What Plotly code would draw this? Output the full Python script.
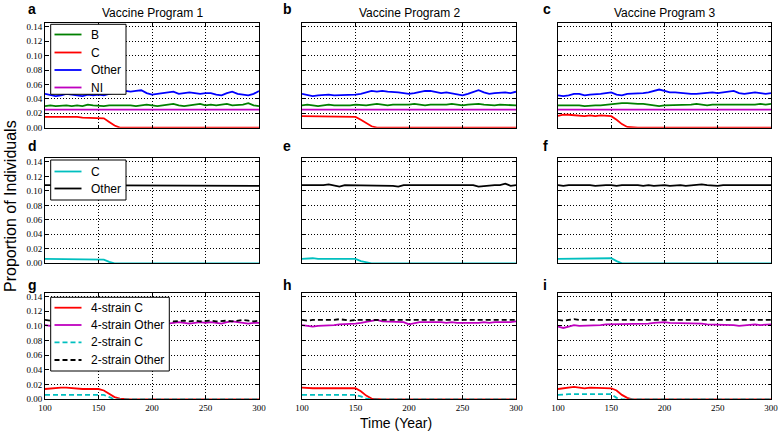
import plotly.graph_objects as go

years = [100, 105, 110, 115, 120, 125, 130, 135, 140, 145,
         150, 155, 160, 165, 170, 175, 180, 185, 190, 195,
         200, 205, 210, 215, 220, 225, 230, 235, 240, 245,
         250, 255, 260, 265, 270, 275, 280, 285, 290, 295, 300]

x_tick_vals = [100, 150, 200, 250, 300]
y_tick_vals = [0.00, 0.02, 0.04, 0.06, 0.08, 0.10, 0.12, 0.14]
y_tick_text = ["0.00", "0.02", "0.04", "0.06", "0.08", "0.10", "0.12", "0.14"]
program_titles = ["Vaccine Program 1", "Vaccine Program 2", "Vaccine Program 3"]
panel_letters = ["a", "b", "c", "d", "e", "f", "g", "h", "i"]

# ---------------- Row 1: B, C, Other, NI ----------------
a_B = [0.030, 0.031, 0.030, 0.031, 0.031, 0.030, 0.031, 0.030, 0.032, 0.031,
       0.030, 0.030, 0.031, 0.031, 0.032, 0.031, 0.031, 0.030, 0.031, 0.032,
       0.031, 0.030, 0.031, 0.032, 0.033, 0.031, 0.030, 0.031, 0.032, 0.033,
       0.031, 0.032, 0.031, 0.032, 0.033, 0.031, 0.031, 0.032, 0.034, 0.031, 0.030]
a_C = [0.015, 0.015, 0.016, 0.016, 0.015, 0.015, 0.015, 0.014, 0.014, 0.014,
       0.014, 0.013, 0.008, 0.003, 0.000, 0.000, 0.000, 0.000, 0.000, 0.000,
       0.000, 0.000, 0.000, 0.000, 0.000, 0.000, 0.000, 0.000, 0.000, 0.000,
       0.000, 0.000, 0.000, 0.000, 0.000, 0.000, 0.000, 0.000, 0.000, 0.000, 0.000]
a_Other = [0.047, 0.046, 0.044, 0.045, 0.047, 0.046, 0.045, 0.044, 0.046, 0.045,
           0.046, 0.045, 0.047, 0.049, 0.050, 0.051, 0.050, 0.051, 0.052, 0.048,
           0.046, 0.047, 0.048, 0.049, 0.050, 0.047, 0.048, 0.049, 0.048, 0.047,
           0.048, 0.048, 0.046, 0.045, 0.048, 0.050, 0.047, 0.046, 0.045, 0.047, 0.051]
a_NI = [0.025, 0.025, 0.025, 0.025, 0.026, 0.025, 0.025, 0.025, 0.025, 0.025,
        0.025, 0.025, 0.025, 0.025, 0.025, 0.025, 0.026, 0.025, 0.025, 0.025,
        0.025, 0.025, 0.025, 0.025, 0.025, 0.025, 0.025, 0.026, 0.025, 0.025,
        0.025, 0.025, 0.025, 0.025, 0.025, 0.025, 0.025, 0.025, 0.025, 0.025, 0.025]

b_B = [0.031, 0.032, 0.031, 0.030, 0.031, 0.032, 0.031, 0.031, 0.030, 0.031,
       0.032, 0.031, 0.031, 0.032, 0.033, 0.032, 0.031, 0.032, 0.032, 0.031,
       0.032, 0.033, 0.032, 0.031, 0.032, 0.032, 0.031, 0.032, 0.033, 0.032,
       0.031, 0.032, 0.033, 0.033, 0.032, 0.031, 0.031, 0.032, 0.032, 0.031, 0.031]
b_C = [0.016, 0.016, 0.015, 0.015, 0.015, 0.015, 0.015, 0.015, 0.016, 0.016,
       0.015, 0.011, 0.006, 0.002, 0.000, 0.000, 0.000, 0.000, 0.000, 0.000,
       0.000, 0.000, 0.000, 0.000, 0.000, 0.000, 0.000, 0.000, 0.000, 0.000,
       0.000, 0.000, 0.000, 0.000, 0.000, 0.000, 0.000, 0.000, 0.000, 0.000, 0.000]
b_Other = [0.047, 0.046, 0.044, 0.045, 0.046, 0.046, 0.045, 0.045, 0.046, 0.046,
           0.046, 0.047, 0.049, 0.051, 0.050, 0.051, 0.050, 0.050, 0.049, 0.048,
           0.047, 0.048, 0.050, 0.051, 0.051, 0.049, 0.048, 0.049, 0.048, 0.047,
           0.045, 0.047, 0.050, 0.052, 0.049, 0.047, 0.048, 0.049, 0.049, 0.048, 0.050]
b_NI = [0.025, 0.025, 0.025, 0.025, 0.025, 0.025, 0.026, 0.025, 0.025, 0.025,
        0.025, 0.025, 0.025, 0.025, 0.025, 0.025, 0.025, 0.025, 0.025, 0.026,
        0.025, 0.025, 0.025, 0.025, 0.025, 0.025, 0.025, 0.025, 0.025, 0.025,
        0.025, 0.025, 0.026, 0.025, 0.025, 0.025, 0.025, 0.025, 0.025, 0.025, 0.025]

c_B = [0.031, 0.031, 0.032, 0.031, 0.031, 0.030, 0.031, 0.031, 0.031, 0.032,
       0.032, 0.034, 0.034, 0.034, 0.033, 0.033, 0.033, 0.032, 0.031, 0.030,
       0.031, 0.031, 0.032, 0.031, 0.032, 0.032, 0.033, 0.032, 0.031, 0.032,
       0.032, 0.032, 0.031, 0.032, 0.032, 0.032, 0.031, 0.032, 0.033, 0.032, 0.033]
c_C = [0.0165, 0.018, 0.018, 0.017, 0.017, 0.016, 0.017, 0.016, 0.017, 0.016,
       0.016, 0.011, 0.005, 0.001, 0.000, 0.000, 0.000, 0.000, 0.000, 0.000,
       0.000, 0.000, 0.000, 0.000, 0.000, 0.000, 0.000, 0.000, 0.000, 0.000,
       0.000, 0.000, 0.000, 0.000, 0.000, 0.000, 0.000, 0.000, 0.000, 0.000, 0.000]
c_Other = [0.045, 0.044, 0.045, 0.047, 0.047, 0.045, 0.046, 0.046, 0.047, 0.048,
           0.049, 0.046, 0.045, 0.047, 0.047, 0.048, 0.048, 0.049, 0.051, 0.053,
           0.051, 0.049, 0.049, 0.048, 0.047, 0.047, 0.047, 0.048, 0.049, 0.049,
           0.048, 0.049, 0.050, 0.051, 0.048, 0.047, 0.048, 0.049, 0.048, 0.047, 0.048]
c_NI = [0.025, 0.025, 0.025, 0.025, 0.025, 0.025, 0.025, 0.025, 0.025, 0.025,
        0.025, 0.025, 0.025, 0.025, 0.025, 0.025, 0.025, 0.025, 0.025, 0.025,
        0.025, 0.025, 0.025, 0.025, 0.025, 0.026, 0.025, 0.025, 0.025, 0.025,
        0.025, 0.025, 0.025, 0.025, 0.025, 0.025, 0.025, 0.025, 0.025, 0.025, 0.025]

# ---------------- Row 2: C, Other ----------------
d_C = [0.006, 0.006, 0.006, 0.006, 0.006, 0.006, 0.006, 0.006, 0.006, 0.006,
       0.006, 0.005, 0.002, 0.000, 0.000, 0.000, 0.000, 0.000, 0.000, 0.000,
       0.000, 0.000, 0.000, 0.000, 0.000, 0.000, 0.000, 0.000, 0.000, 0.000,
       0.000, 0.000, 0.000, 0.000, 0.000, 0.000, 0.000, 0.000, 0.000, 0.000, 0.000]
d_Other = [0.108, 0.108, 0.108, 0.107, 0.108, 0.108, 0.107, 0.108, 0.107, 0.108,
           0.108, 0.107, 0.108, 0.107, 0.107, 0.108, 0.107, 0.108, 0.108, 0.107,
           0.107, 0.108, 0.107, 0.107, 0.108, 0.107, 0.108, 0.107, 0.107, 0.108,
           0.107, 0.108, 0.107, 0.107, 0.108, 0.107, 0.108, 0.107, 0.107, 0.108, 0.107]

e_C = [0.006, 0.007, 0.007, 0.006, 0.006, 0.006, 0.006, 0.006, 0.006, 0.006,
       0.006, 0.003, 0.001, 0.000, 0.000, 0.000, 0.000, 0.000, 0.000, 0.000,
       0.000, 0.000, 0.000, 0.000, 0.000, 0.000, 0.000, 0.000, 0.000, 0.000,
       0.000, 0.000, 0.000, 0.000, 0.000, 0.000, 0.000, 0.000, 0.000, 0.000, 0.000]
e_Other = [0.108, 0.108, 0.108, 0.107, 0.108, 0.109, 0.107, 0.106, 0.108, 0.108,
           0.108, 0.107, 0.108, 0.108, 0.107, 0.108, 0.107, 0.107, 0.106, 0.108,
           0.108, 0.108, 0.107, 0.108, 0.108, 0.107, 0.108, 0.108, 0.108, 0.107,
           0.107, 0.108, 0.108, 0.106, 0.107, 0.107, 0.108, 0.108, 0.110, 0.107, 0.108]

f_C = [0.006, 0.006, 0.007, 0.007, 0.007, 0.007, 0.007, 0.007, 0.007, 0.007,
       0.007, 0.003, 0.000, 0.000, 0.000, 0.000, 0.000, 0.000, 0.000, 0.000,
       0.000, 0.000, 0.000, 0.000, 0.000, 0.000, 0.000, 0.000, 0.000, 0.000,
       0.000, 0.000, 0.000, 0.000, 0.000, 0.000, 0.000, 0.000, 0.000, 0.000, 0.000]
f_Other = [0.108, 0.107, 0.108, 0.108, 0.109, 0.108, 0.108, 0.107, 0.108, 0.108,
           0.108, 0.107, 0.108, 0.108, 0.109, 0.108, 0.107, 0.108, 0.107, 0.108,
           0.108, 0.107, 0.108, 0.108, 0.107, 0.108, 0.108, 0.109, 0.108, 0.107,
           0.107, 0.108, 0.108, 0.107, 0.108, 0.107, 0.108, 0.107, 0.108, 0.108, 0.108]

# ---------------- Row 3: 4-strain vs 2-strain ----------------
g_C4 = [0.014, 0.015, 0.015, 0.016, 0.016, 0.015, 0.015, 0.014, 0.014, 0.014,
        0.014, 0.012, 0.007, 0.003, 0.001, 0.000, 0.000, 0.000, 0.000, 0.000,
        0.000, 0.000, 0.000, 0.000, 0.000, 0.000, 0.000, 0.000, 0.000, 0.000,
        0.000, 0.000, 0.000, 0.000, 0.000, 0.000, 0.000, 0.000, 0.000, 0.000, 0.000]
g_O4 = [0.101, 0.100, 0.101, 0.102, 0.103, 0.102, 0.103, 0.104, 0.103, 0.104,
        0.105, 0.104, 0.105, 0.106, 0.105, 0.106, 0.104, 0.105, 0.104, 0.105,
        0.104, 0.105, 0.104, 0.103, 0.104, 0.105, 0.104, 0.103, 0.104, 0.105,
        0.104, 0.105, 0.104, 0.103, 0.105, 0.106, 0.105, 0.104, 0.103, 0.104, 0.104]
g_C2 = [0.006, 0.006, 0.006, 0.006, 0.006, 0.006, 0.006, 0.006, 0.006, 0.006,
        0.006, 0.006, 0.003, 0.000, 0.000, 0.000, 0.000, 0.000, 0.000, 0.000,
        0.000, 0.000, 0.000, 0.000, 0.000, 0.000, 0.000, 0.000, 0.000, 0.000,
        0.000, 0.000, 0.000, 0.000, 0.000, 0.000, 0.000, 0.000, 0.000, 0.000, 0.000]
g_O2 = [0.108, 0.107, 0.108, 0.108, 0.107, 0.108, 0.108, 0.107, 0.108, 0.108,
        0.107, 0.108, 0.108, 0.107, 0.107, 0.108, 0.107, 0.108, 0.108, 0.107,
        0.107, 0.108, 0.107, 0.107, 0.106, 0.107, 0.107, 0.106, 0.107, 0.106,
        0.107, 0.107, 0.106, 0.107, 0.107, 0.106, 0.107, 0.108, 0.107, 0.106, 0.107]

h_C4 = [0.016, 0.015, 0.015, 0.015, 0.015, 0.014, 0.014, 0.014, 0.015, 0.015,
        0.015, 0.011, 0.005, 0.001, 0.000, 0.000, 0.000, 0.000, 0.000, 0.000,
        0.000, 0.000, 0.000, 0.000, 0.000, 0.000, 0.000, 0.000, 0.000, 0.000,
        0.000, 0.000, 0.000, 0.000, 0.000, 0.000, 0.000, 0.000, 0.000, 0.000, 0.000]
h_O4 = [0.101, 0.100, 0.099, 0.100, 0.100, 0.101, 0.101, 0.102, 0.102, 0.103,
        0.103, 0.104, 0.105, 0.107, 0.108, 0.106, 0.106, 0.105, 0.105, 0.105,
        0.102, 0.104, 0.105, 0.105, 0.105, 0.106, 0.105, 0.104, 0.105, 0.104,
        0.104, 0.103, 0.104, 0.104, 0.105, 0.104, 0.105, 0.105, 0.104, 0.105, 0.106]
h_C2 = [0.006, 0.006, 0.006, 0.006, 0.006, 0.006, 0.006, 0.006, 0.006, 0.006,
        0.006, 0.004, 0.001, 0.000, 0.000, 0.000, 0.000, 0.000, 0.000, 0.000,
        0.000, 0.000, 0.000, 0.000, 0.000, 0.000, 0.000, 0.000, 0.000, 0.000,
        0.000, 0.000, 0.000, 0.000, 0.000, 0.000, 0.000, 0.000, 0.000, 0.000, 0.000]
h_O2 = [0.108, 0.107, 0.108, 0.108, 0.108, 0.107, 0.108, 0.109, 0.108, 0.107,
        0.108, 0.108, 0.107, 0.108, 0.107, 0.107, 0.108, 0.107, 0.108, 0.108,
        0.107, 0.107, 0.108, 0.108, 0.107, 0.108, 0.108, 0.107, 0.108, 0.107,
        0.108, 0.107, 0.108, 0.107, 0.107, 0.108, 0.108, 0.107, 0.108, 0.107, 0.108]

i_C4 = [0.014, 0.015, 0.016, 0.017, 0.016, 0.015, 0.016, 0.016, 0.016, 0.015,
        0.015, 0.012, 0.006, 0.002, 0.000, 0.000, 0.000, 0.000, 0.000, 0.000,
        0.000, 0.000, 0.000, 0.000, 0.000, 0.000, 0.000, 0.000, 0.000, 0.000,
        0.000, 0.000, 0.000, 0.000, 0.000, 0.000, 0.000, 0.000, 0.000, 0.000, 0.000]
i_O4 = [0.099, 0.097, 0.099, 0.101, 0.100, 0.100, 0.101, 0.100, 0.101, 0.102,
        0.102, 0.102, 0.103, 0.103, 0.103, 0.102, 0.103, 0.103, 0.104, 0.105,
        0.105, 0.104, 0.104, 0.104, 0.103, 0.103, 0.104, 0.103, 0.102, 0.102,
        0.101, 0.102, 0.101, 0.101, 0.100, 0.101, 0.102, 0.102, 0.101, 0.102, 0.102]
i_C2 = [0.006, 0.007, 0.007, 0.007, 0.007, 0.007, 0.007, 0.007, 0.007, 0.007,
        0.007, 0.002, 0.000, 0.000, 0.000, 0.000, 0.000, 0.000, 0.000, 0.000,
        0.000, 0.000, 0.000, 0.000, 0.000, 0.000, 0.000, 0.000, 0.000, 0.000,
        0.000, 0.000, 0.000, 0.000, 0.000, 0.000, 0.000, 0.000, 0.000, 0.000, 0.000]
i_O2 = [0.108, 0.107, 0.108, 0.109, 0.108, 0.108, 0.107, 0.108, 0.108, 0.108,
        0.107, 0.108, 0.108, 0.108, 0.107, 0.108, 0.107, 0.108, 0.108, 0.108,
        0.108, 0.107, 0.108, 0.107, 0.108, 0.108, 0.107, 0.108, 0.108, 0.107,
        0.108, 0.107, 0.107, 0.108, 0.107, 0.108, 0.107, 0.108, 0.107, 0.107, 0.108]

# ---------------- styling ----------------
GREEN, RED, BLUE, MAGENTA, CYAN, BLACK = "#008000", "#FF0000", "#0000FF", "#BF00BF", "#00BFBF", "#000000"
DASH = "5px,3px"
W, H = 778, 435
col_px = [(45, 259), (302, 516), (558, 771)]
row_px = [(23.3, 127.7), (158.3, 263.3), (292.7, 399.3)]

# series per panel: (values, name, color, dash)
panels = [
    [(a_B, "B", GREEN, None), (a_C, "C", RED, None), (a_Other, "Other", BLUE, None), (a_NI, "NI", MAGENTA, None)],
    [(b_B, "B", GREEN, None), (b_C, "C", RED, None), (b_Other, "Other", BLUE, None), (b_NI, "NI", MAGENTA, None)],
    [(c_B, "B", GREEN, None), (c_C, "C", RED, None), (c_Other, "Other", BLUE, None), (c_NI, "NI", MAGENTA, None)],
    [(d_C, "C", CYAN, None), (d_Other, "Other", BLACK, None)],
    [(e_C, "C", CYAN, None), (e_Other, "Other", BLACK, None)],
    [(f_C, "C", CYAN, None), (f_Other, "Other", BLACK, None)],
    [(g_C4, "4-strain C", RED, None), (g_O4, "4-strain Other", MAGENTA, None),
     (g_C2, "2-strain C", CYAN, DASH), (g_O2, "2-strain Other", BLACK, DASH)],
    [(h_C4, "4-strain C", RED, None), (h_O4, "4-strain Other", MAGENTA, None),
     (h_C2, "2-strain C", CYAN, DASH), (h_O2, "2-strain Other", BLACK, DASH)],
    [(i_C4, "4-strain C", RED, None), (i_O4, "4-strain Other", MAGENTA, None),
     (i_C2, "2-strain C", CYAN, DASH), (i_O2, "2-strain Other", BLACK, DASH)],
]

fig = go.Figure()
layout = {}
tick_font = dict(family="Liberation Serif, DejaVu Serif, serif", size=9, color="black")
sans = "Liberation Sans, Arial, sans-serif"

for p, series in enumerate(panels):
    r, c = divmod(p, 3)
    s = "" if p == 0 else str(p + 1)
    for vals, name, color, dash in series:
        line = dict(color=color, width=1.8)
        if dash:
            line["dash"] = dash
        fig.add_trace(go.Scatter(
            x=years, y=vals, mode="lines", name=name, line=line,
            xaxis="x" + s, yaxis="y" + s, showlegend=False,
        ))
    x0, x1 = col_px[c]
    y0, y1 = row_px[r]
    common = dict(
        tickfont=tick_font, automargin=False, ticklabeloverflow="allow",
        showgrid=True, gridcolor="black", griddash="1px,2px", gridwidth=1,
        showline=True, linecolor="black", linewidth=1, mirror="ticks",
        ticks="inside", ticklen=3, tickcolor="black", zeroline=False,
    )
    layout["xaxis" + s] = dict(
        domain=[x0 / W, x1 / W], anchor="y" + s, range=[100, 300],
        tickvals=x_tick_vals, showticklabels=(r == 2), **common)
    layout["yaxis" + s] = dict(
        domain=[1 - y1 / H, 1 - y0 / H], anchor="x" + s, range=[0, 0.145],
        tickvals=y_tick_vals, ticktext=y_tick_text, showticklabels=(c == 0), **common)

# ---------------- legends (boxes drawn over the first column panels) ----------------
shapes = []
annotations = []
legend_boxes = [  # (left, top, right, bottom, item centres) in pixels
    (50.7, 24.3, 126, 94.3, [34.5, 52.5, 70, 87.5]),
    (50.7, 160, 126, 200, [171.5, 188.5]),
    (50.7, 297.3, 169.3, 371, [307.7, 325, 342.3, 360]),
]
for r, (lx0, ly0, lx1, ly1, centres) in enumerate(legend_boxes):
    shapes.append(dict(type="rect", xref="paper", yref="paper",
                       x0=lx0 / W, x1=lx1 / W, y0=1 - ly1 / H, y1=1 - ly0 / H,
                       fillcolor="white", line=dict(color="black", width=1), layer="above"))
    for (vals, name, color, dash), cy in zip(panels[r * 3], centres):
        ln = dict(color=color, width=1.8)
        if dash:
            ln["dash"] = DASH
        shapes.append(dict(type="line", xref="paper", yref="paper",
                           x0=54.5 / W, x1=81.5 / W, y0=1 - cy / H, y1=1 - cy / H,
                           line=ln, layer="above"))
        annotations.append(dict(text=name, x=89 / W, y=1 - cy / H, xref="paper", yref="paper",
                                xanchor="left", yanchor="middle", showarrow=False,
                                font=dict(family=sans, size=12, color="black")))

for c in range(3):
    x0, x1 = col_px[c]
    annotations.append(dict(
        text=program_titles[c], x=(x0 + x1) / 2 / W, y=1 - 12.5 / H,
        xref="paper", yref="paper", xanchor="center", yanchor="middle", showarrow=False,
        font=dict(family=sans, size=12, color="black"),
    ))
letter_x = [27, 282, 542]
letter_y = [9, 146, 285]
for p, letter in enumerate(panel_letters):
    r, c = divmod(p, 3)
    annotations.append(dict(
        text="<b>" + letter + "</b>", x=letter_x[c] / W, y=1 - letter_y[r] / H,
        xref="paper", yref="paper", xanchor="left", yanchor="middle", showarrow=False,
        borderpad=0, font=dict(family=sans, size=14, color="black"),
    ))
annotations.append(dict(
    text="Proportion of Individuals", x=10 / W, y=1 - 206 / H, textangle=-90,
    xref="paper", yref="paper", xanchor="center", yanchor="middle", showarrow=False,
    font=dict(family=sans, size=16, color="black"),
))
annotations.append(dict(
    text="Time (Year)", x=396 / W, y=1 - 423 / H,
    xref="paper", yref="paper", xanchor="center", yanchor="middle", showarrow=False,
    font=dict(family=sans, size=14, color="black"),
))

fig.update_layout(
    width=W, height=H, margin=dict(l=0, r=0, t=0, b=0, autoexpand=False),
    paper_bgcolor="white", plot_bgcolor="white", showlegend=False,
    annotations=annotations, shapes=shapes, **layout,
)

fig.write_html("out.html", config={"displayModeBar": False},
               post_script="document.body.style.margin='0';document.body.style.overflow='hidden';")
